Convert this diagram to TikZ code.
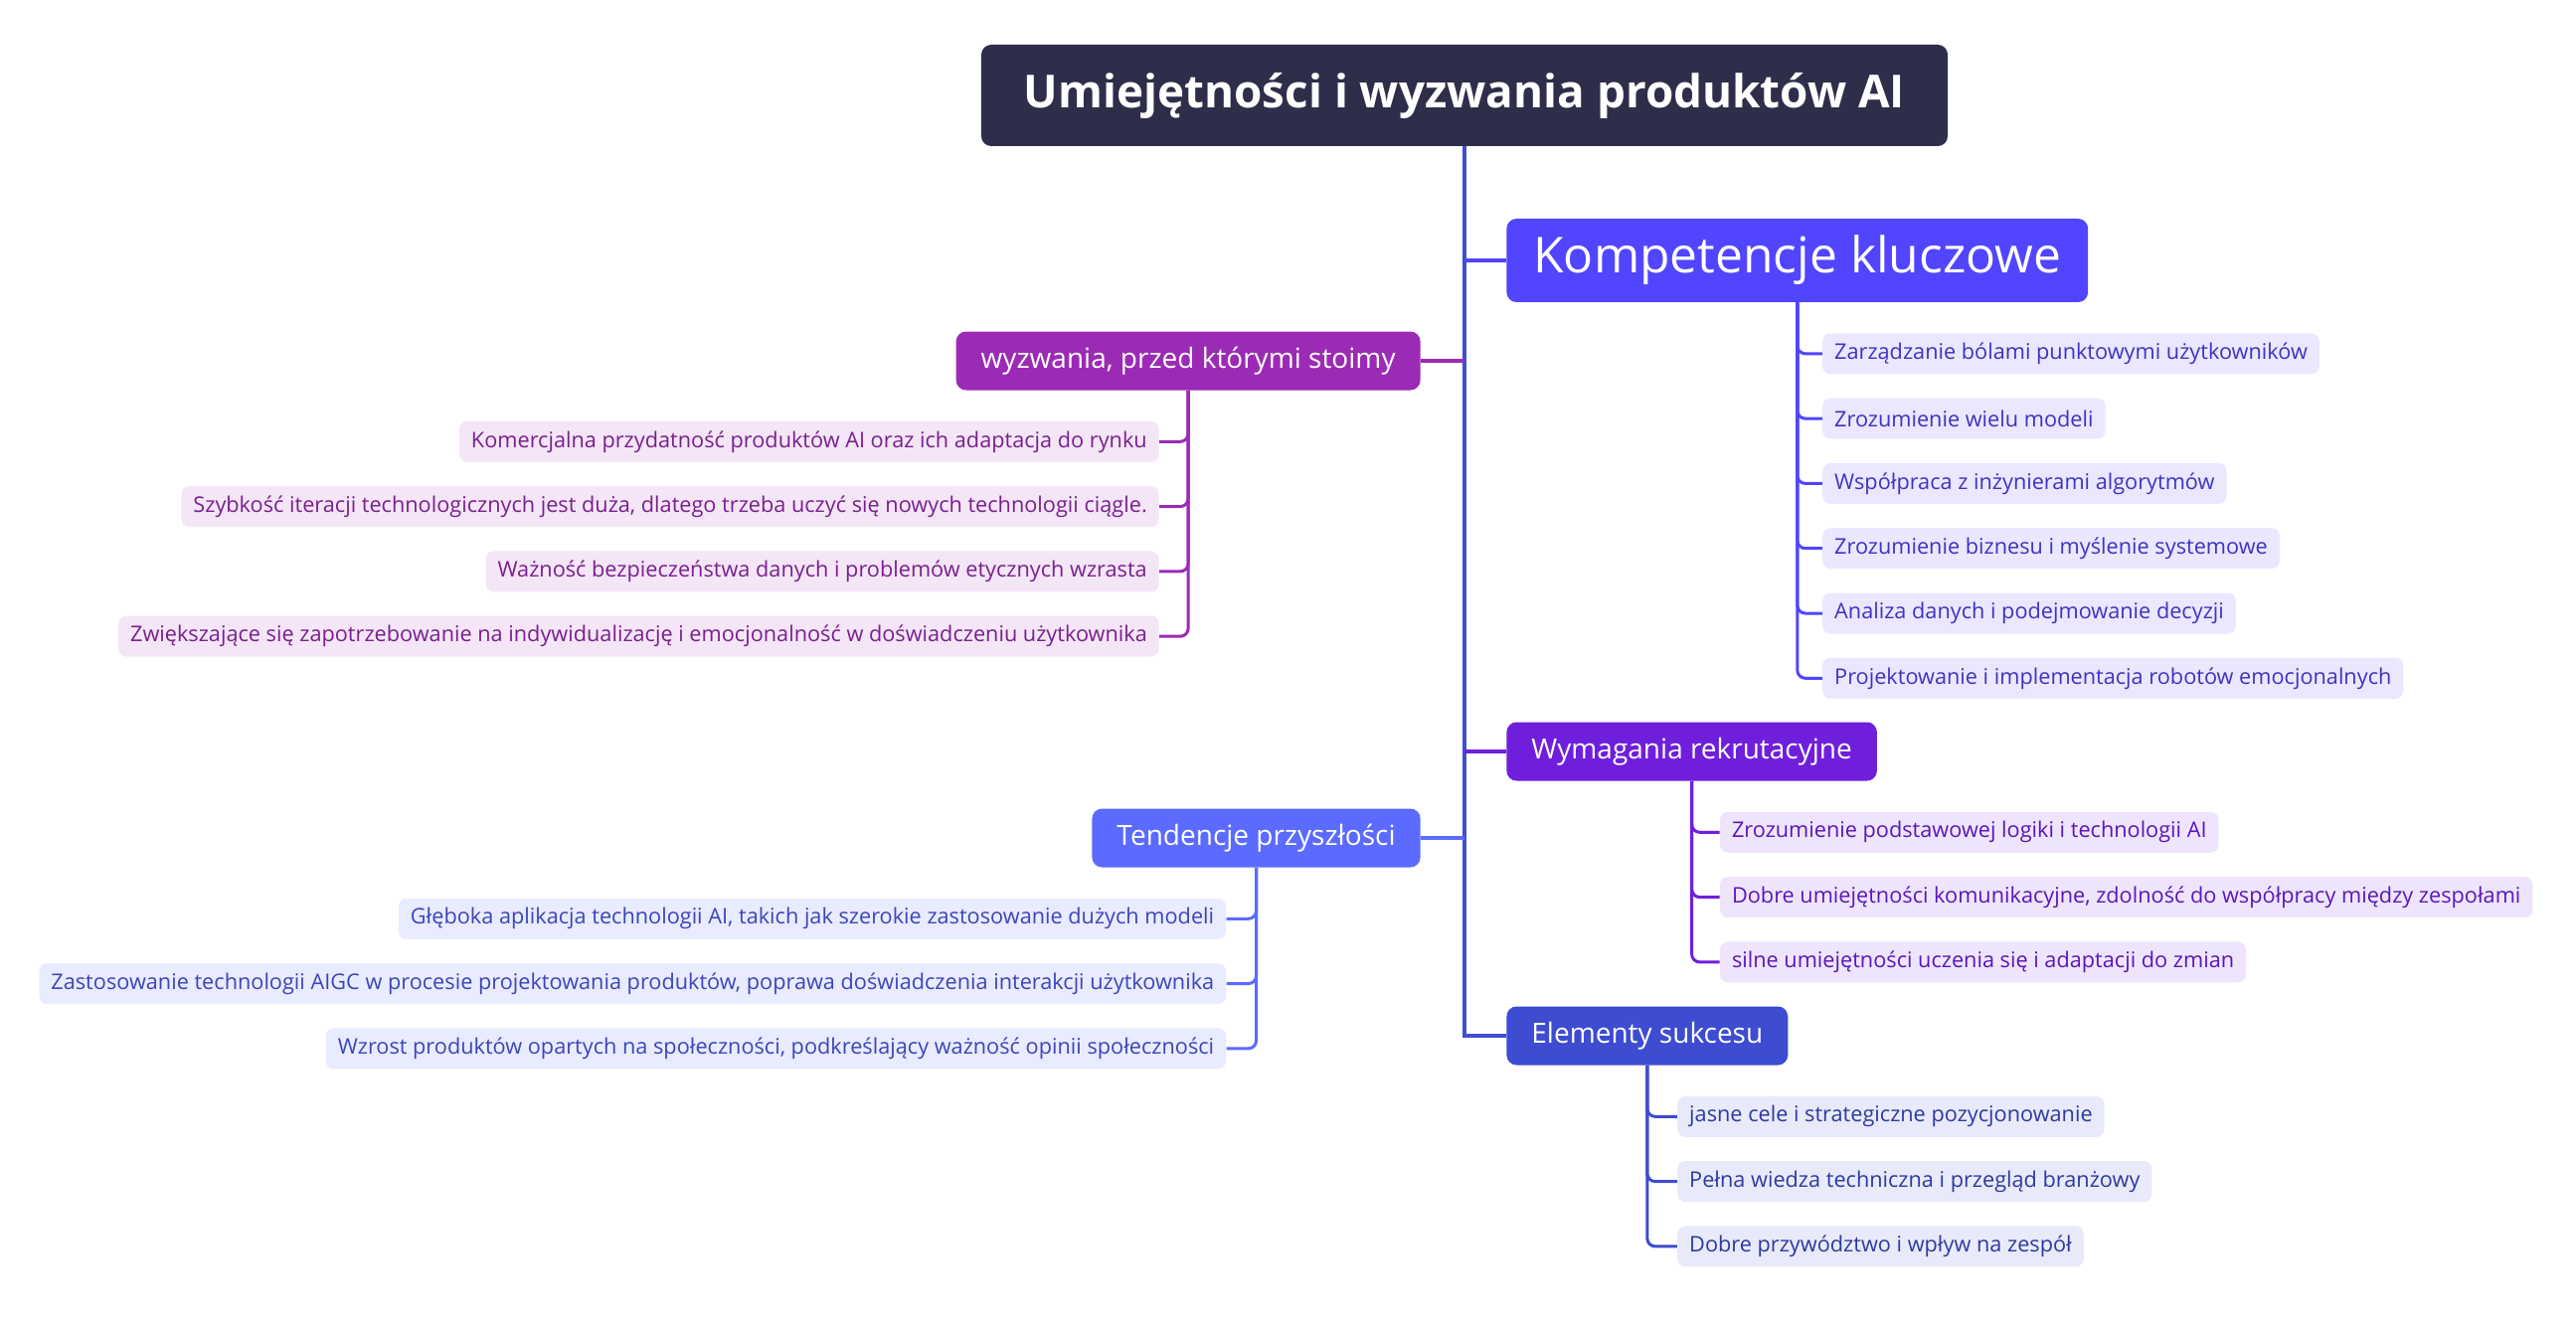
\documentclass[tikz,border=0pt]{standalone}
\usepackage{fontspec}
\setmainfont{Open Sans}
\usepackage{xcolor}
\usepackage{tikz}
\usetikzlibrary{positioning}
\definecolor{topicnavy}{HTML}{2F2E4A}
\definecolor{trunkblue}{HTML}{3F4FD0}
\definecolor{kompblue}{HTML}{5145FF}
\definecolor{wyzpurple}{HTML}{9B2BB5}
\definecolor{wymviolet}{HTML}{6F1FDB}
\definecolor{tenblue}{HTML}{5B6BFF}
\definecolor{eleblue}{HTML}{3D4CD1}
\definecolor{kompfill}{HTML}{EAE7FF}
\definecolor{kompink}{HTML}{3F33C0}
\definecolor{wyzfill}{HTML}{F4E6F7}
\definecolor{wyzink}{HTML}{7A1F8E}
\definecolor{wymfill}{HTML}{EEE5FC}
\definecolor{wymink}{HTML}{5A17B8}
\definecolor{tenfill}{HTML}{E9EBFF}
\definecolor{tenink}{HTML}{3B46B8}
\definecolor{elefill}{HTML}{E8EAFA}
\definecolor{eleink}{HTML}{2E3A9E}

\begin{document}
\begin{tikzpicture}[
    x=0.5pt, y=-0.5pt,
    node distance=11.75pt and 0pt,
    topic/.style={rounded corners=5pt, fill=topicnavy, text=white, minimum height=51pt, inner xsep=21.5pt, font=\fontsize{22.9}{27}\selectfont\bfseries},
    branch/.style={rounded corners=5pt, text=white, minimum height=29.5pt, inner xsep=12.5pt, font=\fontsize{14}{17}\selectfont},
    bigbranch/.style={branch, minimum height=42pt, inner xsep=13.5pt, font=\fontsize{24.9}{29}\selectfont},
    leaf/.style={rounded corners=4pt, minimum height=20.5pt, inner xsep=6pt, inner ysep=0pt, font=\fontsize{10.85}{13}\selectfont},
    kleaf/.style={leaf, fill=kompfill, text=kompink},
    wleaf/.style={leaf, fill=wyzfill, text=wyzink},
    rleaf/.style={leaf, fill=wymfill, text=wymink},
    tleaf/.style={leaf, fill=tenfill, text=tenink},
    eleaf/.style={leaf, fill=elefill, text=eleink},
    trunk/.style={line width=2pt, color=trunkblue},
    link/.style={line width=1.6pt},
    sublink/.style={line width=1.5pt, rounded corners=4pt}
]
\fill[white] (0,0) rectangle (2591,1332);
\useasboundingbox (0,0) rectangle (2591,1332);

% central topic and main branches
\node[topic] (root) at (1473,96) {Umiejętności i wyzwania produktów AI};
\node[bigbranch, fill=kompblue, anchor=west] (komp) at (1515,262) {Kompetencje kluczowe};
\node[branch, fill=wyzpurple, anchor=east] (wyz) at (1429,363) {wyzwania, przed którymi stoimy};
\node[branch, fill=wymviolet, anchor=west] (wym) at (1515,756) {Wymagania rekrutacyjne};
\node[branch, fill=tenblue, anchor=east] (ten) at (1429,843) {Tendencje przyszłości};
\node[branch, fill=eleblue, anchor=west] (ele) at (1515,1042) {Elementy sukcesu};

\draw[trunk] (root.south) |- (ele.west);
\draw[link, kompblue] (root.south |- komp.west) -- (komp.west);
\draw[link, wyzpurple] (root.south |- wyz.east) -- (wyz.east);
\draw[link, wymviolet] (root.south |- wym.west) -- (wym.west);
\draw[link, tenblue] (root.south |- ten.east) -- (ten.east);

% Kompetencje kluczowe
\node[kleaf, below right=15.25pt and 12.5pt of komp.south] (k1) {Zarządzanie bólami punktowymi użytkowników};
\node[kleaf, below right=of k1.south west] (k2) {Zrozumienie wielu modeli};
\node[kleaf, below right=of k2.south west] (k3) {Współpraca z inżynierami algorytmów};
\node[kleaf, below right=of k3.south west] (k4) {Zrozumienie biznesu i myślenie systemowe};
\node[kleaf, below right=of k4.south west] (k5) {Analiza danych i podejmowanie decyzji};
\node[kleaf, below right=of k5.south west] (k6) {Projektowanie i implementacja robotów emocjonalnych};
\draw[sublink, kompblue] (komp.south) |- (k1.west);
\draw[sublink, kompblue] (komp.south) |- (k2.west);
\draw[sublink, kompblue] (komp.south) |- (k3.west);
\draw[sublink, kompblue] (komp.south) |- (k4.west);
\draw[sublink, kompblue] (komp.south) |- (k5.west);
\draw[sublink, kompblue] (komp.south) |- (k6.west);

% wyzwania
\node[wleaf, below left=15.25pt and 14.5pt of wyz.south] (w1) {Komercjalna przydatność produktów AI oraz ich adaptacja do rynku};
\node[wleaf, below left=of w1.south east] (w2) {Szybkość iteracji technologicznych jest duża, dlatego trzeba uczyć się nowych technologii ciągle.};
\node[wleaf, below left=of w2.south east] (w3) {Ważność bezpieczeństwa danych i problemów etycznych wzrasta};
\node[wleaf, below left=of w3.south east] (w4) {Zwiększające się zapotrzebowanie na indywidualizację i emocjonalność w doświadczeniu użytkownika};
\draw[sublink, wyzpurple] (wyz.south) |- (w1.east);
\draw[sublink, wyzpurple] (wyz.south) |- (w2.east);
\draw[sublink, wyzpurple] (wyz.south) |- (w3.east);
\draw[sublink, wyzpurple] (wyz.south) |- (w4.east);

% Wymagania rekrutacyjne
\node[rleaf, below right=15.25pt and 14pt of wym.south] (r1) {Zrozumienie podstawowej logiki i technologii AI};
\node[rleaf, below right=of r1.south west] (r2) {Dobre umiejętności komunikacyjne, zdolność do współpracy między zespołami};
\node[rleaf, below right=of r2.south west] (r3) {silne umiejętności uczenia się i adaptacji do zmian};
\draw[sublink, wymviolet] (wym.south) |- (r1.west);
\draw[sublink, wymviolet] (wym.south) |- (r2.west);
\draw[sublink, wymviolet] (wym.south) |- (r3.west);

% Tendencje przyszłości
\node[tleaf, below left=15.25pt and 15pt of ten.south] (t1) {Głęboka aplikacja technologii AI, takich jak szerokie zastosowanie dużych modeli};
\node[tleaf, below left=of t1.south east] (t2) {Zastosowanie technologii AIGC w procesie projektowania produktów, poprawa doświadczenia interakcji użytkownika};
\node[tleaf, below left=of t2.south east] (t3) {Wzrost produktów opartych na społeczności, podkreślający ważność opinii społeczności};
\draw[sublink, tenblue] (ten.south) |- (t1.east);
\draw[sublink, tenblue] (ten.south) |- (t2.east);
\draw[sublink, tenblue] (ten.south) |- (t3.east);

% Elementy sukcesu
\node[eleaf, below right=15.25pt and 15pt of ele.south] (e1) {jasne cele i strategiczne pozycjonowanie};
\node[eleaf, below right=of e1.south west] (e2) {Pełna wiedza techniczna i przegląd branżowy};
\node[eleaf, below right=of e2.south west] (e3) {Dobre przywództwo i wpływ na zespół};
\draw[sublink, eleblue] (ele.south) |- (e1.west);
\draw[sublink, eleblue] (ele.south) |- (e2.west);
\draw[sublink, eleblue] (ele.south) |- (e3.west);
\end{tikzpicture}
\end{document}
